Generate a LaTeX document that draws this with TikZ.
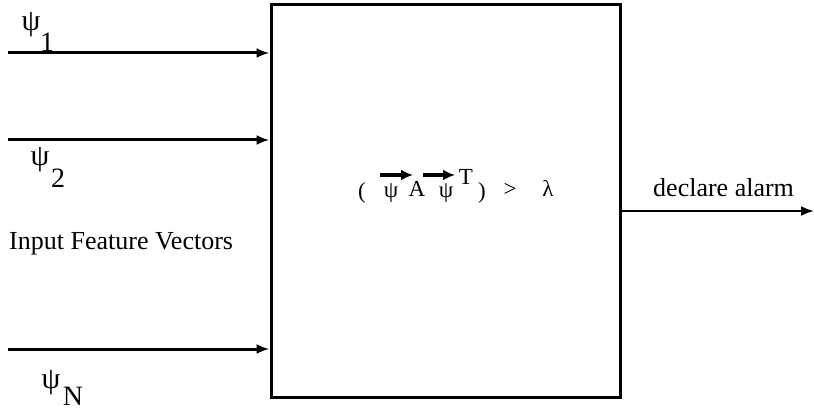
\documentclass[tikz,border=0pt]{standalone}
\usepackage{fontspec}
\setmainfont{Liberation Serif}
\usetikzlibrary{arrows.meta}
\begin{document}
\begin{tikzpicture}[x=1pt,y=-1pt,
  lbl/.style={inner sep=0pt,anchor=base,font=\fontsize{26}{30}\selectfont},
  psi/.style={inner sep=0pt,anchor=base,font=\fontsize{30}{34}\selectfont},
  sub/.style={inner sep=0pt,anchor=base,font=\fontsize{28}{32}\selectfont},
  fml/.style={inner sep=0pt,anchor=base,font=\fontsize{23}{27}\selectfont},
  inarrow/.style={line width=3pt,-{Latex[length=13pt,width=10pt]}},
  outarrow/.style={line width=2.2pt,-{Latex[length=13pt,width=10pt]}},
  vecarrow/.style={line width=3.2pt,-{Latex[length=12pt,width=11pt]}}]
\useasboundingbox (0,0) rectangle (814,414);
\node[draw,line width=3pt,inner sep=0pt,minimum width=349pt,minimum height=392pt] (box) at (445.5,201) {};
% inputs
\coordinate (in1) at (8,53);
\coordinate (in2) at (8,140);
\coordinate (inN) at (8,349);
\draw[inarrow] (in1) -- (in1 -| box.west);
\draw[inarrow] (in2) -- (in2 -| box.west);
\draw[inarrow] (inN) -- (inN -| box.west);
% output
\coordinate (out) at (814,211);
\draw[outarrow] (box.east |- out) -- (out);
% labels
\node[psi] (p1) at (31,31) {ψ};
\node[sub] (s1) at (47,52) {1};
\node[psi] (p2) at (40,166) {ψ};
\node[sub] (s2) at (58,188) {2};
\node[psi] (pN) at (51,388) {ψ};
\node[sub] (sN) at (73,405) {N};
\node[lbl,anchor=base west] (ifv) at (9,250) {Input Feature Vectors};
\node[lbl,anchor=base west] (da) at (653,197) {declare alarm};
% formula
\node[fml] (lp) at (362,199) {(};
\node[fml] (f1) at (391,198) {ψ};
\node[fml] (fA) at (417,197) {A};
\node[fml] (f2) at (446,198) {ψ};
\node[fml] (fT) at (466,185) {T};
\node[fml] (rp) at (482,199) {)};
\node[fml] (gt) at (510,197) {>};
\node[fml] (la) at (548,197) {λ};
\coordinate (a1s) at (380,175);
\coordinate (a1e) at (413,175);
\coordinate (a2s) at (423,175);
\coordinate (a2e) at (455,175);
\draw[vecarrow] (a1s) -- (a1e);
\draw[vecarrow] (a2s) -- (a2e);
\end{tikzpicture}
\end{document}
